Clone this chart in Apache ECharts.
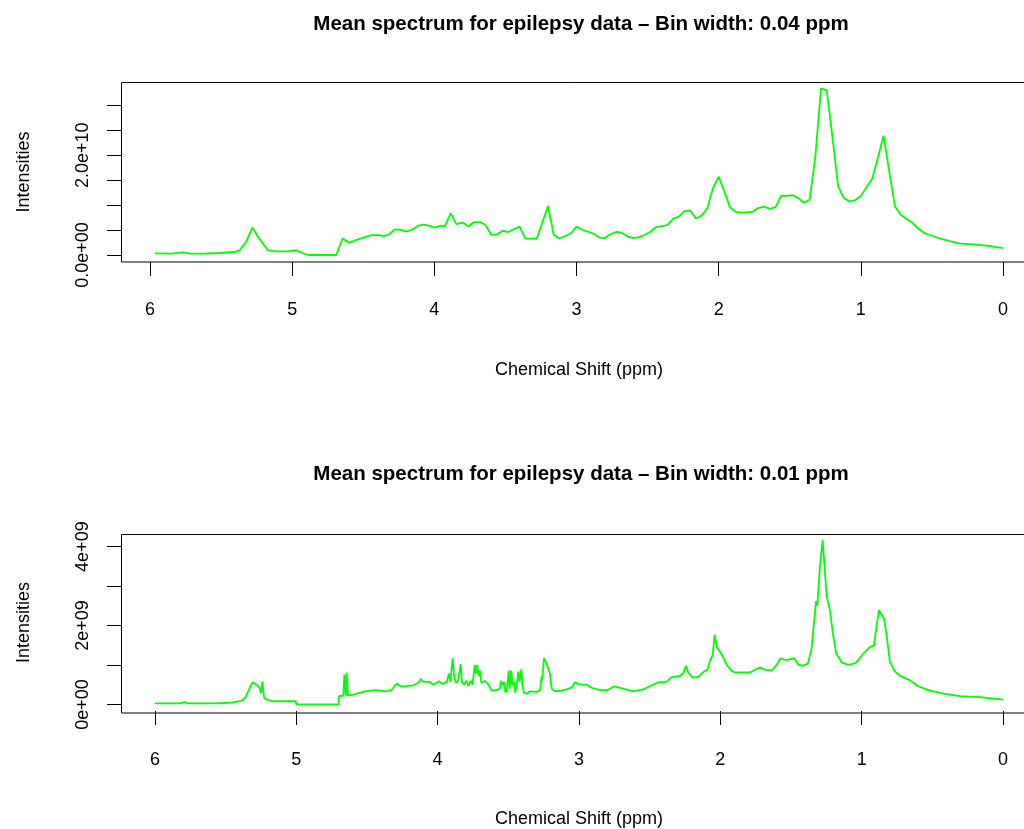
<!DOCTYPE html>
<html>
<head>
<meta charset="utf-8">
<script src="https://cdn.jsdelivr.net/npm/echarts@6/dist/echarts.min.js"></script>
<style>html,body{margin:0;padding:0;background:#fff;}#c{width:1024px;height:829px;}</style>
</head>
<body>
<div id="c"></div>
<script>
// ---- Data (intensities in units of 1e9) ----
const topPpm = [5.965,5.85,5.765,5.72,5.60,5.51,5.41,5.37,5.325,5.28,5.23,5.17,5.11,5.04,4.97,4.93,4.886,4.80,4.69,4.645,4.60,4.55,4.49,4.44,4.39,4.36,4.32,4.28,4.24,4.20,4.16,4.11,4.08,4.04,4.00,3.96,3.925,3.885,3.845,3.80,3.76,3.72,3.68,3.64,3.60,3.56,3.52,3.48,3.44,3.40,3.36,3.32,3.28,3.24,3.20,3.16,3.12,3.08,3.04,3.00,2.96,2.92,2.88,2.84,2.80,2.765,2.72,2.68,2.64,2.60,2.56,2.52,2.48,2.44,2.40,2.36,2.32,2.28,2.24,2.20,2.16,2.12,2.08,2.04,2.00,1.96,1.92,1.88,1.84,1.76,1.72,1.68,1.64,1.60,1.56,1.52,1.48,1.44,1.40,1.36,1.32,1.28,1.24,1.20,1.16,1.12,1.08,1.04,1.00,0.96,0.92,0.88,0.84,0.80,0.76,0.72,0.68,0.64,0.60,0.56,0.52,0.48,0.44,0.40,0.36,0.30,0.185,0.09,0.0];
const topIntensityE9 = [0.32,0.26,0.52,0.26,0.30,0.40,0.60,0.93,2.6,5.5,3.2,0.93,0.73,0.73,0.93,0.40,0.0,0.0,0.0,3.3,2.45,3.0,3.6,4.0,4.0,3.8,4.06,5.1,5.1,4.7,5.06,5.9,6.1,5.9,5.5,5.86,5.8,8.4,6.2,6.5,5.7,6.6,6.6,6.0,4.06,4.1,4.86,4.6,5.2,5.7,3.3,3.3,3.26,6.5,9.8,4.0,3.3,3.8,4.3,5.7,5.06,4.7,4.26,3.5,3.4,4.1,4.66,4.4,3.7,3.4,3.6,4.06,4.66,5.6,5.8,6.0,7.26,7.7,8.86,8.9,7.3,7.9,9.3,13.4,15.7,12.7,9.5,8.66,8.5,8.66,9.46,9.7,9.26,9.6,11.9,11.86,12.0,11.4,10.46,11.06,19.7,33.4,33.0,23.7,13.86,11.4,10.7,11.0,11.8,13.6,15.3,19.5,23.9,16.7,9.7,8.06,7.26,6.5,5.4,4.5,4.06,3.66,3.3,3.0,2.7,2.3,2.1,1.8,1.4];

const bottomPpm = [6.0,5.82,5.79,5.765,5.54,5.45,5.39,5.36,5.34,5.31,5.28,5.26,5.25,5.24,5.235,5.227,5.175,5.115,5.005,4.998,4.70,4.698,4.667,4.66,4.65,4.643,4.635,4.597,4.514,4.444,4.36,4.325,4.29,4.255,4.17,4.13,4.12,4.10,4.054,4.03,3.99,3.965,3.936,3.92,3.91,3.894,3.885,3.87,3.855,3.837,3.828,3.814,3.795,3.78,3.767,3.752,3.738,3.73,3.72,3.71,3.70,3.69,3.665,3.64,3.618,3.58,3.56,3.552,3.54,3.53,3.52,3.51,3.497,3.49,3.48,3.47,3.46,3.45,3.44,3.43,3.42,3.408,3.40,3.39,3.37,3.347,3.30,3.276,3.264,3.26,3.248,3.23,3.22,3.205,3.193,3.17,3.122,3.087,3.05,3.028,3.01,2.98,2.946,2.91,2.85,2.80,2.75,2.71,2.65,2.615,2.545,2.50,2.44,2.38,2.345,2.285,2.26,2.243,2.226,2.196,2.156,2.116,2.092,2.073,2.054,2.04,2.026,2.015,1.99,1.955,1.92,1.896,1.79,1.755,1.72,1.684,1.637,1.606,1.573,1.535,1.477,1.448,1.413,1.38,1.354,1.337,1.33,1.323,1.314,1.295,1.276,1.264,1.248,1.224,1.205,1.18,1.14,1.095,1.047,1.024,0.988,0.94,0.913,0.894,0.877,0.863,0.842,0.823,0.80,0.764,0.729,0.658,0.60,0.517,0.422,0.304,0.163,0.0];
const bottomIntensityE9 = [0.025,0.025,0.06,0.025,0.03,0.05,0.09,0.17,0.33,0.56,0.5,0.42,0.28,0.58,0.62,0.15,0.085,0.08,0.085,0.0,0.0,0.21,0.22,0.75,0.22,0.8,0.22,0.25,0.33,0.36,0.33,0.37,0.53,0.45,0.485,0.57,0.65,0.57,0.57,0.5,0.585,0.52,0.57,0.78,0.57,1.17,0.77,0.54,0.6,1.02,0.57,0.5,0.6,0.46,0.6,0.5,1.0,0.78,1.0,0.72,0.85,0.54,0.6,0.5,0.35,0.36,0.4,0.6,0.5,0.57,0.3,0.38,0.86,0.4,0.86,0.5,0.57,0.3,0.5,0.83,0.57,0.89,0.5,0.3,0.27,0.33,0.32,0.35,0.71,0.6,1.17,1.05,1.1,0.77,0.4,0.33,0.35,0.38,0.43,0.57,0.52,0.5,0.5,0.42,0.36,0.36,0.46,0.42,0.36,0.33,0.38,0.46,0.56,0.57,0.69,0.72,0.8,0.98,0.8,0.68,0.7,0.83,0.875,1.11,1.25,1.77,1.46,1.48,1.27,1.0,0.85,0.81,0.81,0.875,0.94,0.875,0.86,0.975,1.17,1.12,1.17,1.0,0.98,1.04,1.42,2.08,2.33,2.62,2.5,3.5,4.17,3.58,2.75,2.37,1.83,1.29,1.06,1.0,1.04,1.12,1.29,1.46,1.49,2.0,2.39,2.3,2.18,1.75,1.08,0.83,0.725,0.61,0.46,0.35,0.275,0.21,0.185,0.12];

const xTickValues = [0,1,2,3,4,5,6];
const topYTickValues = [0,5e9,1e10,1.5e10,2e10,2.5e10,3e10];
const topYLabelValues = [0,2e10];
const topYLabelTexts = ['0.0e+00','2.0e+10'];
const bottomYTickValues = [0,1e9,2e9,3e9,4e9];
const bottomYLabelValues = [0,2e9,4e9];
const bottomYLabelTexts = ['0e+00','2e+09','4e+09'];

const titles = ['Mean spectrum for epilepsy data \u2013 Bin width: 0.04 ppm','Mean spectrum for epilepsy data \u2013 Bin width: 0.01 ppm'];
const xName = 'Chemical Shift (ppm)';
const yName = 'Intensities';

// ---- Build ----
const FONT = "'Liberation Sans', Arial, Helvetica, sans-serif";
const toPairs = (xs, ys) => xs.map((x, i) => [x, ys[i] * 1e9]);

function xAxisCfg(gi, min, max, labelMargin) {
  return {
    gridIndex: gi, type: 'value', inverse: true, min: min, max: max,
    name: xName, nameLocation: 'middle', nameGap: 99,
    nameTextStyle: {fontFamily: FONT, fontSize: 18, color: '#000', padding: [0, 0, 0, 13]},
    axisLine: {show: false, onZero: false},
    axisTick: {show: true, inside: false, length: 14, customValues: xTickValues, lineStyle: {color: '#000', width: 1}},
    axisLabel: {show: true, customValues: xTickValues, margin: labelMargin, fontFamily: FONT, fontSize: 18, color: '#000', formatter: v => String(Math.round(v))},
    splitLine: {show: false}
  };
}
function yAxisCfg(gi, min, max, ticks, labVals, labTexts) {
  return {
    gridIndex: gi, type: 'value', min: min, max: max,
    name: yName, nameLocation: 'middle', nameGap: 88, nameRotate: 90,
    nameTextStyle: {fontFamily: FONT, fontSize: 18, color: '#000'},
    axisLine: {show: false, onZero: false},
    axisTick: {show: true, inside: false, length: 14, customValues: ticks, lineStyle: {color: '#000', width: 1}},
    axisLabel: {show: true, rotate: 90, customValues: labVals, margin: 29, fontFamily: FONT, fontSize: 18, color: '#000',
      formatter: v => { const i = labVals.findIndex(t => Math.abs(t - v) < 1); return i >= 0 ? labTexts[i] : ''; }},
    splitLine: {show: false}
  };
}

const chart = echarts.init(document.getElementById('c'), null, {renderer: 'canvas'});
chart.setOption({
  backgroundColor: '#fff',
  animation: false,
  title: [
    {text: titles[0], left: 576, top: 9, textAlign: 'center', textStyle: {fontFamily: FONT, fontSize: 20.5, fontWeight: 'bold', color: '#000'}},
    {text: titles[1], left: 576, top: 459, textAlign: 'center', textStyle: {fontFamily: FONT, fontSize: 20.5, fontWeight: 'bold', color: '#000'}}
  ],
  grid: [
    {left: 121, top: 82, width: 903, height: 180, show: false},
    {left: 121, top: 534, width: 903, height: 179, show: false}
  ],
  graphic: [
    {type: 'rect', silent: true, shape: {x: 121.5, y: 82.5, width: 930, height: 179.5}, style: {fill: 'none', stroke: '#000', lineWidth: 1}},
    {type: 'rect', silent: true, shape: {x: 121.5, y: 534.5, width: 930, height: 178.5}, style: {fill: 'none', stroke: '#000', lineWidth: 1}}
  ],
  xAxis: [xAxisCfg(0, -0.1477, 6.204, 39), xAxisCfg(1, -0.1486, 6.24, 40)],
  yAxis: [
    yAxisCfg(0, -1.4e9, 3.466e10, topYTickValues, topYLabelValues, topYLabelTexts),
    yAxisCfg(1, -0.167e9, 4.32e9, bottomYTickValues, bottomYLabelValues, bottomYLabelTexts)
  ],
  series: [
    {type: 'line', xAxisIndex: 0, yAxisIndex: 0, data: toPairs(topPpm, topIntensityE9), showSymbol: false, smooth: false, lineStyle: {color: '#00ff00', width: 1.8}, itemStyle: {color: '#00ff00'}},
    {type: 'line', xAxisIndex: 1, yAxisIndex: 1, data: toPairs(bottomPpm, bottomIntensityE9), showSymbol: false, smooth: false, lineStyle: {color: '#00ff00', width: 1.8}, itemStyle: {color: '#00ff00'}}
  ]
});
</script>
</body>
</html>
